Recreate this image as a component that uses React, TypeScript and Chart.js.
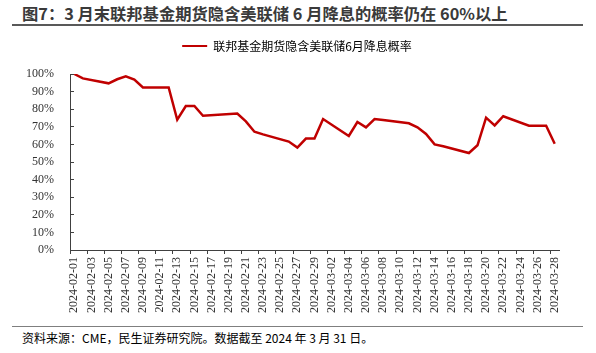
import React, { useEffect, useRef } from "react";
import { Chart, registerables } from "chart.js";

Chart.register(...registerables);

const titleText = "图7：3 月末联邦基金期货隐含美联储 6 月降息的概率仍在 60%以上";
const sourceText = "资料来源：CME，民生证券研究院。数据截至 2024 年 3 月 31 日。";
const seriesName = "联邦基金期货隐含美联储6月降息概率";

const axisStart = "2024-02-01";
const axisDays = 57;

const tradingDates = [
  "2024-02-01", "2024-02-02", "2024-02-05", "2024-02-06", "2024-02-07", "2024-02-08",
  "2024-02-09", "2024-02-12", "2024-02-13", "2024-02-14", "2024-02-15", "2024-02-16",
  "2024-02-20", "2024-02-21", "2024-02-22", "2024-02-23", "2024-02-26", "2024-02-27",
  "2024-02-28", "2024-02-29", "2024-03-01", "2024-03-04", "2024-03-05", "2024-03-06",
  "2024-03-07", "2024-03-08", "2024-03-11", "2024-03-12", "2024-03-13", "2024-03-14",
  "2024-03-15", "2024-03-18", "2024-03-19", "2024-03-20", "2024-03-21", "2024-03-22",
  "2024-03-25", "2024-03-26", "2024-03-27", "2024-03-28",
];

const probValues = [
  100, 97.5, 94.7, 97.0, 98.7, 96.8,
  92.4, 92.4, 74.0, 81.8, 81.8, 76.3,
  77.5, 73.1, 67.2, 65.7, 61.6, 58.2,
  63.3, 63.3, 74.4, 64.8, 72.7, 69.7,
  74.4, 73.8, 72.0, 69.7, 65.9, 60.0,
  58.9, 55.1, 59.5, 75.2, 70.8, 76.0,
  70.6, 70.6, 70.6, 60.4,
];

const yTickValues = [0, 10, 20, 30, 40, 50, 60, 70, 80, 90, 100];

function buildCalendar(start: string, n: number): string[] {
  const out: string[] = [];
  const d0 = new Date(start + "T00:00:00Z");
  for (let i = 0; i < n; i++) {
    const d = new Date(d0.getTime() + i * 86400000);
    out.push(d.toISOString().slice(0, 10));
  }
  return out;
}

const shiftLegend = {
  id: "shiftLegend",
  afterLayout(chart: any) {
    const lg = chart.legend;
    if (lg) {
      lg.left += 17.5;
      lg.right += 17.5;
      lg.top -= 12;
      lg.bottom -= 12;
    }
  },
};

export default function App() {
  const ref = useRef<HTMLCanvasElement | null>(null);

  useEffect(() => {
    document.body.style.margin = "0";
    const canvas = ref.current;
    if (!canvas) return;
    const labels = buildCalendar(axisStart, axisDays);
    const map = new Map<string, number>();
    tradingDates.forEach((d, i) => map.set(d, probValues[i]));
    const data = labels.map((d) => (map.has(d) ? (map.get(d) as number) : null));

    const axisColor = "#404040";

    const chart = new Chart(canvas, {
      type: "line",
      data: {
        labels,
        datasets: [
          {
            label: seriesName,
            data,
            borderColor: "#C00000",
            backgroundColor: "#C00000",
            borderWidth: 2.5,
            pointRadius: 0,
            tension: 0,
            spanGaps: true,
          },
        ],
      },
      plugins: [shiftLegend],
      options: {
        responsive: false,
        animation: false,
        layout: { padding: { top: 40, left: 0, right: 37, bottom: 0 } },
        plugins: {
          tooltip: { enabled: false },
          legend: {
            display: true,
            position: "top",
            labels: {
              boxWidth: 25,
              boxHeight: 2,
              padding: 12,
              color: "#000",
              font: { family: "'Noto Sans CJK SC', sans-serif", size: 12 },
              generateLabels: (c: any) =>
                Chart.defaults.plugins.legend.labels
                  .generateLabels(c)
                  .map((l: any) => ({ ...l, lineWidth: 0, fillStyle: "#C00000" })),
            },
          },
        },
        scales: {
          x: {
            type: "category",
            offset: true,
            grid: {
              display: true,
              offset: true,
              drawOnChartArea: false,
              drawTicks: true,
              tickLength: 4,
              tickWidth: 1,
              tickColor: (ctx: any) => (ctx.index % 2 === 0 && ctx.index < axisDays ? axisColor : "rgba(0,0,0,0)"),
            },
            border: { display: true, color: axisColor, width: 1 },
            ticks: {
              autoSkip: false,
              minRotation: 90,
              maxRotation: 90,
              padding: 3,
              color: "#333",
              font: { family: "'Liberation Serif', serif", size: 12 },
              callback: (_v: any, i: number) => (i % 2 === 0 ? labels[i] : ""),
            },
            afterFit: (s: any) => {
              s.height = 76;
            },
          },
          y: {
            type: "linear",
            min: 0,
            max: 100,
            grid: {
              display: true,
              drawOnChartArea: false,
              drawTicks: true,
              tickLength: -4,
              tickColor: axisColor,
            },
            border: { display: true, color: axisColor, width: 1 },
            afterBuildTicks: (s: any) => {
              s.ticks = yTickValues.map((v) => ({ value: v }));
            },
            ticks: {
              padding: 20,
              color: "#333",
              font: { family: "'Liberation Serif', serif", size: 12 },
              callback: (v: any) => v + "%",
            },
            afterFit: (s: any) => {
              s.width = 70;
            },
          },
        },
      },
    });
    return () => chart.destroy();
  }, []);

  return (
    <div style={{ position: "absolute", left: 0, top: 0, width: 596, height: 353, background: "#fff" }}>
      <div
        style={{
          position: "absolute",
          left: 22,
          top: 3,
          fontFamily: "'Noto Sans CJK SC', sans-serif",
          fontWeight: 700,
          fontSize: 16.3,
          lineHeight: "20px",
          color: "#3a3a3a",
          whiteSpace: "nowrap",
        }}
      >
        {titleText}
      </div>
      <div style={{ position: "absolute", left: 12, top: 24, width: 571, height: 2, background: "#595959" }} />
      <canvas ref={ref} width={596} height={326} style={{ position: "absolute", left: 0, top: 0 }} />
      <div style={{ position: "absolute", left: 12, top: 326, width: 571, height: 1, background: "#7f7f7f" }} />
      <div
        style={{
          position: "absolute",
          left: 22,
          top: 330,
          fontFamily: "'Noto Sans CJK SC', sans-serif",
          fontSize: 12,
          lineHeight: "16px",
          color: "#000",
          whiteSpace: "nowrap",
        }}
      >
        {sourceText}
      </div>
    </div>
  );
}
